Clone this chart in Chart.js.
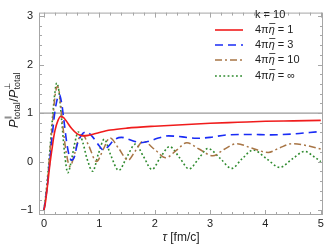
<!DOCTYPE html>
<html>
<head>
<meta charset="utf-8">
<script src="https://cdn.jsdelivr.net/npm/chart.js@4/dist/chart.umd.min.js"></script>
<style>
html, body { margin: 0; padding: 0; background: #fff; }
</style>
</head>
<body>
<canvas id="chart" width="327" height="247"></canvas>
<script>
// values
const tRed = [0, 0.025, 0.05, 0.075, 0.1, 0.125, 0.15, 0.175, 0.2, 0.25, 0.3, 0.35, 0.4, 0.5, 0.6, 0.7, 0.8, 0.9, 1.0, 1.2, 1.5, 2.0, 2.5, 3.0, 3.5, 4.0, 4.5, 5.0];
const vRed = [-1, -0.85, -0.63, -0.38, -0.12, 0.1, 0.3, 0.5, 0.65, 0.84, 0.93, 0.91, 0.84, 0.68, 0.57, 0.53, 0.54, 0.57, 0.6, 0.65, 0.69, 0.73, 0.76, 0.79, 0.81, 0.83, 0.84, 0.85];

const tBlue = [0, 0.05, 0.1, 0.15, 0.2, 0.25, 0.28, 0.32, 0.36, 0.41, 0.46, 0.5, 0.55, 0.6, 0.68, 0.77, 0.87, 1.0, 1.07, 1.15, 1.27, 1.4, 1.55, 1.75, 1.9, 2.05, 2.25, 2.5, 2.75, 3.0, 3.3, 3.7, 4.1, 4.5, 4.8, 5.0];
const vBlue = [-1, -0.6, -0.05, 0.55, 1.05, 1.33, 1.38, 1.2, 0.85, 0.4, 0.1, 0.03, 0.1, 0.35, 0.55, 0.61, 0.52, 0.32, 0.24, 0.3, 0.45, 0.5, 0.45, 0.39, 0.42, 0.48, 0.53, 0.51, 0.48, 0.5, 0.55, 0.56, 0.55, 0.57, 0.6, 0.62];

const tBrown = [0, 0.05, 0.1, 0.15, 0.2, 0.24, 0.28, 0.33, 0.4, 0.47, 0.55, 0.62, 0.7, 0.8, 0.95, 1.07, 1.19, 1.35, 1.52, 1.65, 1.79, 2.0, 2.2, 2.4, 2.58, 2.8, 3.05, 3.25, 3.48, 3.75, 4.05, 4.25, 4.48, 4.75, 5.0];
const vBrown = [-1, -0.55, 0.1, 0.75, 1.35, 1.55, 1.4, 0.85, 0.2, -0.1, 0.15, 0.45, 0.55, 0.35, 0.0, 0.25, 0.49, 0.27, 0.03, 0.22, 0.42, 0.25, 0.08, 0.24, 0.39, 0.26, 0.12, 0.25, 0.37, 0.28, 0.19, 0.28, 0.37, 0.33, 0.26];

const tGreen = [0, 0.05, 0.1, 0.15, 0.2, 0.23, 0.27, 0.32, 0.37, 0.43, 0.5, 0.55, 0.62, 0.7, 0.78, 0.88, 0.98, 1.09, 1.2, 1.35, 1.5, 1.65, 1.8, 1.95, 2.1, 2.27, 2.45, 2.62, 2.8, 2.96, 3.18, 3.39, 3.58, 3.78, 4.02, 4.26, 4.48, 4.71, 4.88, 5.0];
const vGreen = [-1, -0.5, 0.15, 0.85, 1.45, 1.62, 1.45, 0.85, 0.2, -0.23, 0.05, 0.35, 0.61, 0.4, 0.05, -0.2, 0.15, 0.46, 0.15, -0.18, 0.1, 0.36, 0.1, -0.16, 0.08, 0.31, 0.08, -0.15, 0.07, 0.27, 0.07, -0.14, 0.06, 0.24, 0.06, -0.12, 0.05, 0.21, 0.1, 0.0];

const etaLabels = ['1', '3', '10', '\u221e'];
const legendTitle = 'k = 10';
const xTicks = [0, 1, 2, 3, 4, 5];
const yTicks = [-1, 0, 1, 2, 3];
const refLevel = 1;

function pts(ts, vs) {
    return ts.map((t, i) => ({ x: t, y: vs[i] }));
}

const frameColor = '#a6a6a6';

const framePlugin = {
    id: 'frame',
    beforeDatasetsDraw(chart) {
        const { ctx, chartArea: a, scales } = chart;
        const y = scales.y.getPixelForValue(refLevel);
        ctx.save();
        ctx.strokeStyle = '#9a9a9a';
        ctx.lineWidth = 1.3;
        ctx.beginPath();
        ctx.moveTo(a.left, y);
        ctx.lineTo(a.right, y);
        ctx.stroke();
        ctx.restore();
    },
    afterDraw(chart) {
        const { ctx, chartArea: a, scales } = chart;
        const xs = scales.x, ys = scales.y;
        ctx.save();
        ctx.strokeStyle = frameColor;
        ctx.lineWidth = 1;
        ctx.strokeRect(a.left + 0.5, a.top + 0.5, a.right - a.left - 1, a.bottom - a.top - 1);
        ctx.beginPath();
        for (let i = -5; i <= 255; i++) {
            const v = i / 5;
            if (v < xs.min || v > xs.max) continue;
            const len = i % 5 === 0 ? 5 : 3;
            const px = Math.round(xs.getPixelForValue(v)) + 0.5;
            ctx.moveTo(px, a.bottom); ctx.lineTo(px, a.bottom - len);
            ctx.moveTo(px, a.top); ctx.lineTo(px, a.top + len);
        }
        for (let i = -10; i <= 20; i++) {
            const v = i / 5;
            if (v < ys.min || v > ys.max) continue;
            const len = i % 5 === 0 ? 5 : 3;
            const py = Math.round(ys.getPixelForValue(v)) + 0.5;
            ctx.moveTo(a.left, py); ctx.lineTo(a.left + len, py);
            ctx.moveTo(a.right, py); ctx.lineTo(a.right - len, py);
        }
        ctx.stroke();

        // x title
        ctx.fillStyle = '#222';
        ctx.textBaseline = 'middle';
        ctx.font = 'italic 12px "Liberation Sans", Arial, sans-serif';
        const tau = '\u03c4';
        ctx.font = '12px "Liberation Sans", Arial, sans-serif';
        const rest = ' [fm/c]';
        const wRest = ctx.measureText(rest).width;
        ctx.font = 'italic 12px "Liberation Sans", Arial, sans-serif';
        const wTau = ctx.measureText(tau).width;
        let x0 = (a.left + a.right) / 2 - (wTau + wRest) / 2;
        ctx.textAlign = 'left';
        ctx.fillText(tau, x0, 238);
        ctx.font = '12px "Liberation Sans", Arial, sans-serif';
        ctx.fillText(rest, x0 + wTau, 238);

        // y title, rotated
        ctx.save();
        ctx.translate(14, 100);
        ctx.rotate(-Math.PI / 2);
        const parts = [
            { t: 'P', f: 'italic 13px "Liberation Sans", Arial, sans-serif', dy: 0 },
            { t: '\u2225', f: '7px "DejaVu Sans", sans-serif', dy: -6, over: true },
            { t: 'total', f: '9px "Liberation Sans", Arial, sans-serif', dy: 3.5 },
            { t: '/', f: '13px "Liberation Sans", Arial, sans-serif', dy: 0 },
            { t: 'P', f: 'italic 13px "Liberation Sans", Arial, sans-serif', dy: 0 },
            { t: '\u22a5', f: '8px "DejaVu Sans", sans-serif', dy: -6, over: true },
            { t: 'total', f: '9px "Liberation Sans", Arial, sans-serif', dy: 3.5 }
        ];
        let total = 0, widths = [];
        parts.forEach(p => { ctx.font = p.f; const w = ctx.measureText(p.t).width; widths.push(w); });
        // super and sub stack on the same x
        let cx = 0;
        const pos = [];
        for (let i = 0; i < parts.length; i++) {
            if (parts[i].over) { pos.push(cx); continue; }
            pos.push(cx);
            if (i > 0 && parts[i - 1].over) {
                cx += Math.max(widths[i], widths[i - 1]);
            } else {
                cx += widths[i];
            }
            if (parts[i].dy > 0) cx += 0.5;
        }
        total = cx;
        ctx.textAlign = 'left';
        parts.forEach((p, i) => {
            ctx.font = p.f;
            ctx.fillText(p.t, pos[i] - total / 2, p.dy);
        });
        ctx.restore();

        // legend
        const lx0 = 215, lx1 = 243, tx = 255;
        const rows = [30, 45, 60, 76];
        ctx.textAlign = 'left';
        ctx.textBaseline = 'middle';
        ctx.font = '11px "Liberation Sans", Arial, sans-serif';
        ctx.fillStyle = '#222';
        ctx.fillText(legendTitle, tx, 15);
        chart.data.datasets.forEach((ds, i) => {
            const y = rows[i];
            ctx.save();
            ctx.strokeStyle = ds.borderColor;
            ctx.lineWidth = ds.borderWidth;
            ctx.setLineDash(ds.borderDash || []);
            ctx.beginPath();
            ctx.moveTo(lx0, y);
            ctx.lineTo(lx1, y);
            ctx.stroke();
            ctx.restore();
            ctx.fillStyle = '#222';
            ctx.font = '11px "Liberation Sans", Arial, sans-serif';
            let x = tx;
            ctx.fillText('4\u03c0', x, y);
            x += ctx.measureText('4\u03c0').width;
            ctx.font = 'italic 11px "Liberation Sans", Arial, sans-serif';
            const we = ctx.measureText('\u03b7').width;
            ctx.fillText('\u03b7', x, y);
            ctx.strokeStyle = '#222';
            ctx.lineWidth = 0.8;
            ctx.beginPath();
            ctx.moveTo(x + 0.5, y - 6.5);
            ctx.lineTo(x + we + 0.5, y - 6.5);
            ctx.stroke();
            x += we;
            ctx.font = '11px "Liberation Sans", Arial, sans-serif';
            ctx.fillText(' = ' + etaLabels[i], x, y);
        });
        ctx.restore();
    }
};

const ctx = document.getElementById('chart').getContext('2d');
new Chart(ctx, {
    type: 'line',
    data: {
        datasets: [
            { label: '1', data: pts(tRed, vRed), borderColor: '#f01c1c', borderWidth: 1.6, cubicInterpolationMode: 'monotone' },
            { label: '3', data: pts(tBlue, vBlue), borderColor: '#1a2cf5', borderWidth: 1.6, borderDash: [8, 5], cubicInterpolationMode: 'monotone' },
            { label: '10', data: pts(tBrown, vBrown), borderColor: '#a87545', borderWidth: 1.5, borderDash: [7, 3, 2, 3], cubicInterpolationMode: 'monotone' },
            { label: 'inf', data: pts(tGreen, vGreen), borderColor: '#2e8a2e', borderWidth: 1.6, borderDash: [1.8, 2.4], cubicInterpolationMode: 'monotone' }
        ]
    },
    options: {
        responsive: false,
        animation: false,
        devicePixelRatio: 1,
        layout: { padding: { top: 1, right: 4, left: 0, bottom: 0 } },
        elements: { point: { radius: 0 } },
        plugins: { legend: { display: false }, tooltip: { enabled: false } },
        scales: {
            x: {
                type: 'linear',
                min: -0.09,
                max: 5.04,
                afterFit(s) { s.height = 32; },
                afterBuildTicks(s) { s.ticks = xTicks.map(v => ({ value: v })); },
                grid: { display: false, drawTicks: false },
                border: { display: false },
                ticks: { padding: 2, color: '#222', font: { size: 11, family: '"Liberation Sans", Arial, sans-serif' }, maxRotation: 0 }
            },
            y: {
                type: 'linear',
                min: -1.1,
                max: 3.07,
                afterFit(s) { s.width = 39; },
                afterBuildTicks(s) { s.ticks = yTicks.map(v => ({ value: v })); },
                grid: { display: false, drawTicks: false },
                border: { display: false },
                ticks: {
                    padding: 6, color: '#222',
                    font: { size: 11, family: '"Liberation Sans", Arial, sans-serif' },
                    callback: v => String(v).replace('-', '\u2212')
                }
            }
        }
    },
    plugins: [framePlugin]
});
</script>
</body>
</html>
